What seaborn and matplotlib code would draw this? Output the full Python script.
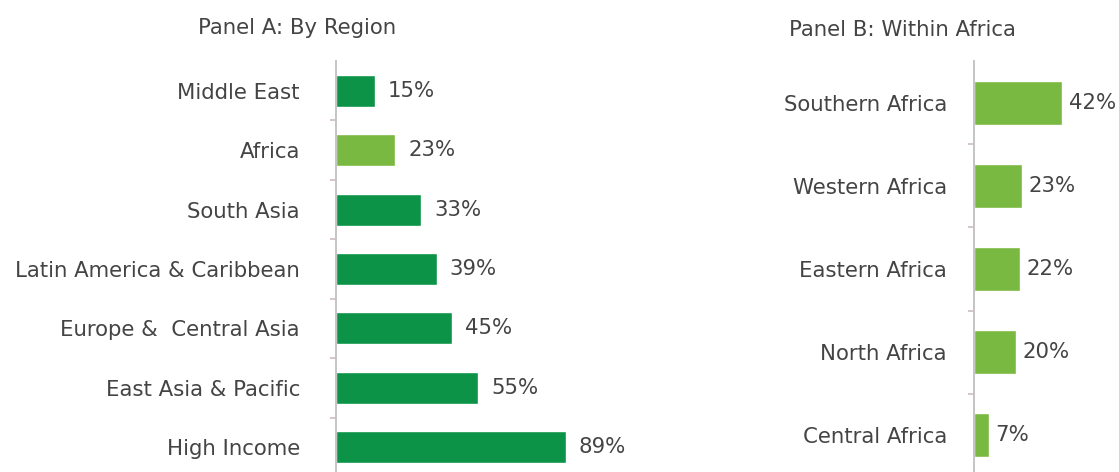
import matplotlib
matplotlib.use("Agg")
import matplotlib.pyplot as plt
import seaborn as sns
import pandas as pd
from matplotlib.ticker import FixedLocator

# ---- data ----
regions = ["Middle East", "Africa", "South Asia", "Latin America & Caribbean",
           "Europe &  Central Asia", "East Asia & Pacific", "High Income"]
region_values = [15, 23, 33, 39, 45, 55, 89]

africa_regions = ["Southern Africa", "Western Africa", "Eastern Africa",
                  "North Africa", "Central Africa"]
africa_values = [42, 23, 22, 20, 7]

title_a = "Panel A: By Region"
title_b = "Panel B: Within Africa"

# ---- style ----
sns.set_style("white")
plt.rcParams["font.family"] = ["DejaVu Sans"]

DARK = "#0C9348"
LIGHT = "#7AB941"
TEXT = "#444444"
FS = 15.3

fig = plt.figure(figsize=(11.19, 4.72), dpi=100)

bottom = -5 / 472
height = 416 / 472
ax_a = fig.add_axes([336 / 1119, bottom, 314 / 1119, height])
ax_b = fig.add_axes([974 / 1119, bottom, 145 / 1119, height])

df_a = pd.DataFrame({"region": regions, "value": region_values})
pal_a = {r: (LIGHT if r == "Africa" else DARK) for r in regions}
sns.barplot(data=df_a, x="value", y="region", hue="region", palette=pal_a,
            legend=False, width=0.54, orient="h", saturation=1, ax=ax_a)

df_b = pd.DataFrame({"region": africa_regions, "value": africa_values})
pal_b = {r: LIGHT for r in africa_regions}
sns.barplot(data=df_b, x="value", y="region", hue="region", palette=pal_b,
            legend=False, width=0.53, orient="h", saturation=1, ax=ax_b)

def style(ax, n, xmax, label_pad, value_pad):
    ax.set_xlim(0, xmax)
    ax.set_ylim(n - 0.5, -0.5)
    ax.set_xlabel("")
    ax.set_ylabel("")
    ax.set_xticks([])
    for s in ["top", "right", "bottom"]:
        ax.spines[s].set_visible(False)
    ax.spines["left"].set_color("#c4c4c4")
    ax.spines["left"].set_linewidth(1.4)
    ax.tick_params(axis="y", which="major", left=True, length=0, pad=label_pad,
                   labelsize=FS, labelcolor=TEXT)
    ax.yaxis.set_minor_locator(FixedLocator([i + 0.5 for i in range(n - 1)]))
    ax.tick_params(axis="y", which="minor", left=True, length=4, width=1.2,
                   color="#cdbcc5", direction="out")
    for c in ax.containers:
        ax.bar_label(c, labels=[f"{int(v)}%" for v in c.datavalues],
                     padding=value_pad, fontsize=FS, color=TEXT)
    ax.patch.set_alpha(0)

style(ax_a, len(regions), 121.7, 26, 9.4)
style(ax_b, len(africa_regions), 69.5, 19.5, 5)

fig.text(297.5 / 1119, 1 - 28 / 472, title_a, ha="center", va="center",
         fontsize=FS, color=TEXT)
fig.text(902 / 1119, 1 - 30 / 472, title_b, ha="center", va="center",
         fontsize=FS, color=TEXT)

fig.savefig("out.png", dpi=100, facecolor="white")
